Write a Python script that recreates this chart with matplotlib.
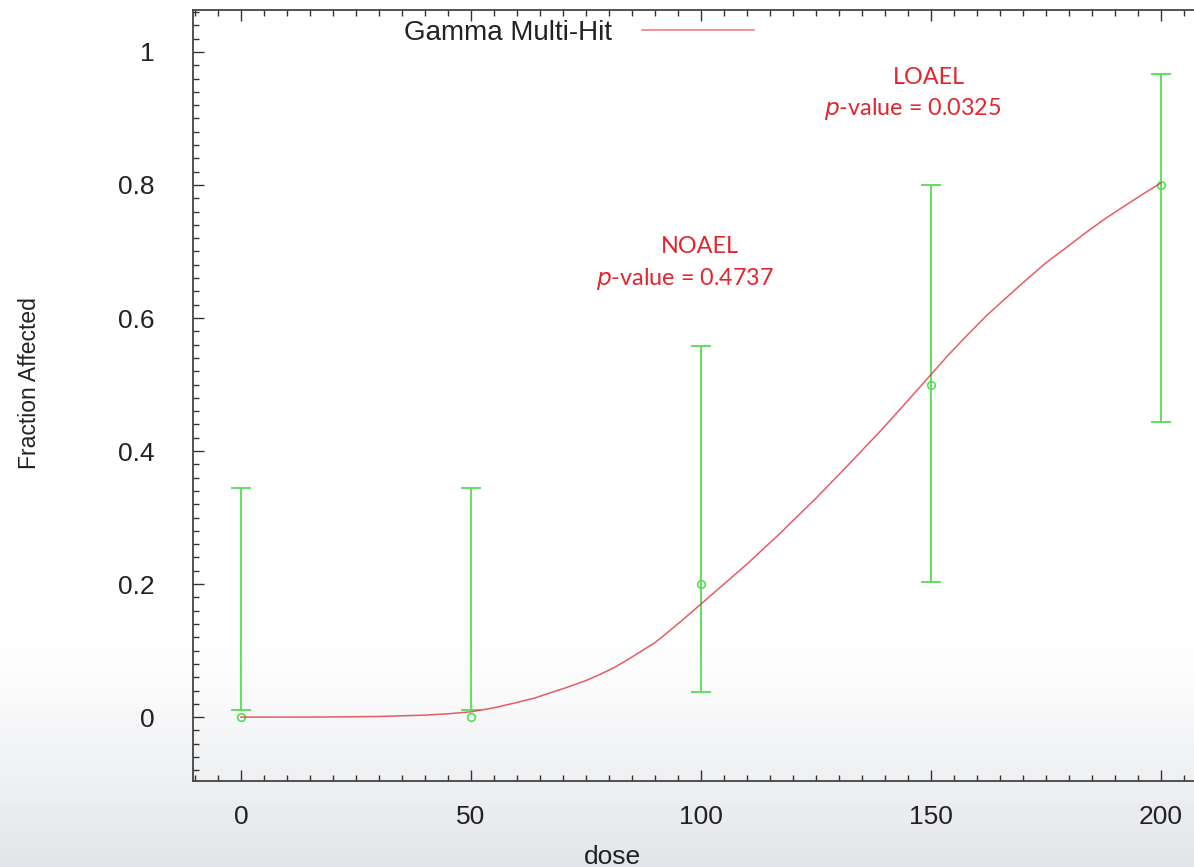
import numpy as np
import matplotlib.pyplot as plt
from matplotlib.ticker import MultipleLocator, FuncFormatter
from matplotlib.lines import Line2D

# observed fractions with confidence limits
doses = [0, 50, 100, 150, 200]
frac = [0.0, 0.0, 0.2, 0.5, 0.8]
ci_low = [0.01, 0.01, 0.038, 0.203, 0.443]
ci_high = [0.345, 0.345, 0.558, 0.80, 0.967]

# fitted Gamma Multi-Hit curve
fit_dose = [0, 10, 20, 30, 40, 45, 50, 55, 60, 64, 67, 71, 75, 78, 81, 84, 87, 90, 92,
            96, 100, 105, 110, 117, 125, 132, 139, 145, 150, 154, 158, 162, 165,
            170, 175, 180, 184, 188, 192, 196, 200]
fit_frac = [0.0, 0.0, 0.0003, 0.001, 0.003, 0.005, 0.008, 0.014, 0.022, 0.029, 0.036,
            0.045, 0.055, 0.064, 0.074, 0.086, 0.099, 0.112, 0.123, 0.146, 0.170,
            0.200, 0.230, 0.275, 0.329, 0.379, 0.430, 0.476, 0.515, 0.546, 0.575,
            0.603, 0.622, 0.653, 0.683, 0.709, 0.730, 0.750, 0.768, 0.786, 0.803]

red = '#e3262e'
curve_red = '#e2404a'
green = '#55dd55'

plt.rcParams['font.family'] = ['Liberation Sans', 'DejaVu Sans']

fig = plt.figure(figsize=(11.94, 8.67), dpi=100)

# slide background: white fading to light grey at the bottom
bg = fig.add_axes([0, 0, 1, 1], zorder=-10)
g = np.ones((200, 1, 3))
ramp = np.clip((np.linspace(0, 1, 200) - 0.74) / 0.26, 0, 1) ** 1.2
for k, c in enumerate([0.89, 0.9, 0.915]):
    g[:, 0, k] = 1 - ramp * (1 - c)
bg.imshow(g, aspect='auto', extent=[0, 1, 0, 1], origin='upper')
bg.set_axis_off()

ax = fig.add_axes([193 / 1194, 86 / 867, 1014 / 1194, 771 / 867])
ax.patch.set_alpha(0)

# error bars (lower limit can sit above the point, so draw them by hand)
ax.vlines(doses, ci_low, ci_high, color=green, lw=1.3, zorder=2)
ax.plot(doses, ci_low, ls='none', marker='_', ms=15, mew=1.3, color=green, zorder=2)
ax.plot(doses, ci_high, ls='none', marker='_', ms=15, mew=1.3, color=green, zorder=2)
ax.plot(doses, frac, ls='none', marker='o', ms=5.5, mfc='none', mec=green, mew=1.2, zorder=2)

ax.plot(fit_dose, fit_frac, color=curve_red, lw=1.1, alpha=0.85, zorder=3)

ax.set_xlim(-10.4, 210)
ax.set_ylim(-0.096, 1.063)
ax.set_yticks([0, 0.2, 0.4, 0.6, 0.8, 1])
ax.xaxis.set_major_locator(MultipleLocator(50))
ax.xaxis.set_minor_locator(MultipleLocator(5))
ax.yaxis.set_minor_locator(MultipleLocator(0.02))
ax.yaxis.set_major_formatter(FuncFormatter(lambda v, p: f'{v:g}'))

ax.tick_params(which='both', direction='in', top=True, right=True, color='#333333', width=1)
ax.tick_params(which='major', length=8, labelsize=19, labelcolor='#222222')
ax.tick_params(which='minor', length=4)
ax.tick_params(axis='x', pad=17)
ax.tick_params(axis='y', pad=27.5)
for s in ax.spines.values():
    s.set_color('#444444')
    s.set_linewidth(1.3)

ax.set_xlabel('dose', fontsize=19, color='#222222')
ax.set_ylabel('Fraction Affected', fontsize=16.5, color='#222222')
ax.xaxis.set_label_coords(0.414, -0.083)
ax.yaxis.set_label_coords(-0.150, 0.516)

ax.legend([Line2D([], [], color=curve_red, lw=1.1, alpha=0.7)], ['Gamma Multi-Hit'],
          loc='center', bbox_to_anchor=(0.381, 0.970), frameon=False,
          markerfirst=False, fontsize=20, handlelength=4.03, handletextpad=1.08,
          labelcolor='#222222')

# NOAEL / LOAEL notes
ax.text(99.8, 0.707, 'NOAEL', color=red, fontsize=16.8, family='Lato',
        ha='center', va='center')
ax.text(96.5, 0.659, '$p$-value = 0.4737', color=red, fontsize=16.8, family='Lato',
        ha='center', va='center')
ax.text(149.5, 0.961, 'LOAEL', color=red, fontsize=16.8, family='Lato',
        ha='center', va='center')
ax.text(146.0, 0.914, '$p$-value = 0.0325', color=red, fontsize=16.8, family='Lato',
        ha='center', va='center')

fig.savefig('out.png', dpi=100)
